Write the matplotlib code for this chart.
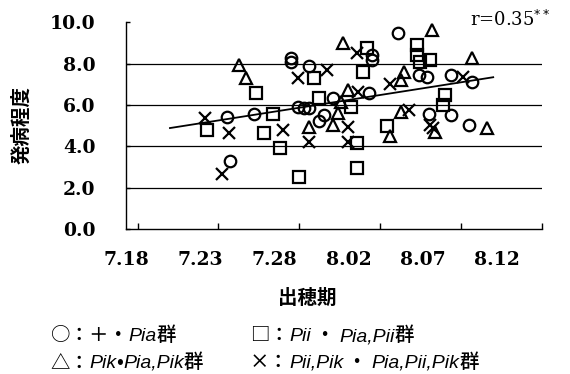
import matplotlib
matplotlib.use("Agg")
import matplotlib.pyplot as plt
import numpy as np

# x = heading date as days after July 18, y = disease severity
circle_x = [5.7, 5.5, 7.2, 9.5, 9.5, 10.6, 9.9, 10.3, 10.6, 12.1, 11.2, 11.5,
            14.3, 16.1, 14.5, 14.5, 17.4, 17.9, 19.4, 20.7, 18.0, 19.4, 20.5]
circle_y = [3.29, 5.42, 5.56, 8.27, 8.08, 7.89, 5.90, 5.85, 5.85, 6.34, 5.22, 5.52,
            6.58, 9.48, 8.42, 8.18, 7.45, 7.35, 7.45, 7.11, 5.56, 5.52, 5.03]

square_x = [4.3, 7.3, 7.8, 8.4, 8.8, 10.0, 10.9, 11.2, 13.2, 13.6, 13.6, 14.2,
            13.95, 15.4, 17.3, 17.3, 17.5, 18.1, 19.0, 18.9]
square_y = [4.79, 6.58, 4.64, 5.56, 3.92, 2.52, 7.31, 6.34, 5.90, 4.16, 2.95, 8.76,
            7.60, 4.98, 8.90, 8.42, 8.08, 8.18, 6.48, 6.00]

triangle_x = [6.25, 6.7, 12.7, 13.0, 12.6, 10.6, 12.1, 12.4, 15.6, 16.3, 16.5,
              16.3, 18.2, 20.7, 21.6, 18.4]
triangle_y = [7.93, 7.31, 9.00, 6.72, 6.14, 4.93, 5.03, 5.61, 4.50, 7.21, 7.60,
              5.66, 9.63, 8.27, 4.89, 4.69]

cross_x = [4.15, 5.65, 5.2, 9.0, 9.9, 11.7, 10.6, 13.0, 13.0, 13.6, 13.65, 15.6,
           16.8, 18.1, 20.1, 18.3]
cross_y = [5.37, 4.64, 2.66, 4.79, 7.31, 7.69, 4.21, 4.93, 4.21, 8.51, 6.63, 7.02,
           5.76, 5.03, 7.35, 4.89]

# regression line
reg_slope = 0.123
reg_intercept = 4.64
reg_range = [2.0, 22.0]

x_ticks = [0, 5, 10, 15, 20, 25]
x_tick_labels = ["7.18", "7.23", "7.28", "8.02", "8.07", "8.12"]
y_ticks = [0, 2, 4, 6, 8, 10]
y_tick_labels = ["0.0", "2.0", "4.0", "6.0", "8.0", "10.0"]

r_text = r"r=0.35$^{**}$"
y_label = "発病程度"
x_label = "出穂期"

legend_rows = [
    [[("○：＋・", "n"), ("Pia", "i"), ("群", "n")],
     [("□：", "n"), ("Pii", "i"), (" ・ ", "n"), ("Pia,Pii", "i"), ("群", "n")]],
    [[("△：", "n"), ("Pik", "i"), ("•", "n"), ("Pia,Pik", "i"), ("群", "n")],
     [("×：", "n"), ("Pii,Pik", "i"), (" ・ ", "n"), ("Pia,Pii,Pik", "i"), ("群", "n")]],
]

CJK = ["Noto Sans CJK JP", "DejaVu Sans"]
W, H = 570, 374
fig = plt.figure(figsize=(W / 100, H / 100), dpi=100)
ax = fig.add_axes([126 / W, 1 - 229 / H, (541.7 - 126) / W, (229 - 22.4) / H])
ax.set_xlim(0, 25)
ax.set_ylim(0, 10)

mk = dict(linestyle="none", markersize=8.3, markeredgewidth=1.6,
          markerfacecolor="none", markeredgecolor="black", clip_on=False)
ax.plot(circle_x, circle_y, marker="o", **mk)
ax.plot(square_x, square_y, marker="s", **mk)
ax.plot(triangle_x, triangle_y, marker="^", **mk)
ax.plot(cross_x, cross_y, marker="x", **mk)

lx = np.array(reg_range)
ax.plot(lx, reg_intercept + reg_slope * lx, color="black", lw=1.3)

for yv in y_ticks[1:-1]:
    ax.axhline(yv, color="black", lw=0.9, zorder=0)

for s in ["top", "right"]:
    ax.spines[s].set_visible(False)
for s in ["left", "bottom"]:
    ax.spines[s].set_linewidth(1.0)

tickfont = dict(family="DejaVu Serif", weight="bold", size=13.5)
# tick marks
ax.set_xticks(x_ticks)
ax.set_xticklabels([])
ax.tick_params(axis="x", which="major", direction="in", length=4, width=1)
# tick labels (printed slightly compressed relative to the tick marks)
label_pos = [-0.72 + t * 0.919 for t in x_ticks]
ax.set_xticks(label_pos, minor=True)
ax.set_xticklabels(x_tick_labels, minor=True, fontdict=tickfont)
ax.tick_params(axis="x", which="minor", length=0, pad=16)

ax.set_yticks(y_ticks)
ax.set_yticklabels(y_tick_labels, fontdict=tickfont)
ax.tick_params(axis="y", direction="in", length=3, width=1, pad=22)
for lab in ax.get_yticklabels():
    lab.set_verticalalignment("center_baseline")

fig.text(470 / W, 1 - 20 / H, r_text, family="DejaVu Serif", size=13,
         ha="left", va="center")

fig.text(22 / W, 1 - 125 / H, y_label, rotation=90, ha="center", va="center",
         family=CJK, size=14, weight="bold")
fig.text(307 / W, 1 - 298 / H, x_label, ha="center", va="center",
         family=CJK, size=14, weight="bold")

renderer = fig.canvas.get_renderer()
row_base = [341, 368]
col_start = [50, 250]
for ri, row in enumerate(legend_rows):
    for ci, segs in enumerate(row):
        xp = col_start[ci]
        for txt, st in segs:
            if st == "i":
                t = fig.text(xp / W, 1 - row_base[ri] / H, txt, family="Liberation Sans",
                             style="italic", size=14, ha="left", va="baseline")
            else:
                t = fig.text(xp / W, 1 - row_base[ri] / H, txt, family=CJK,
                             size=14, weight="medium", ha="left", va="baseline")
            bb = t.get_window_extent(renderer)
            xp += bb.width

fig.savefig("out.png", dpi=100)
